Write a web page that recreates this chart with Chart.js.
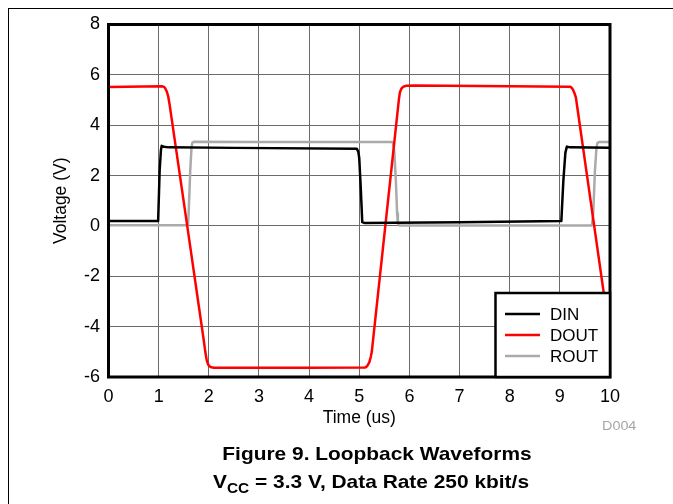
<!DOCTYPE html>
<html>
<head>
<meta charset="utf-8">
<script src="https://cdn.jsdelivr.net/npm/chart.js@4.4.0/dist/chart.umd.min.js"></script>
<style>
html,body{margin:0;padding:0;background:#fff;overflow:hidden;}
#wrap{position:relative;width:673px;height:504px;overflow:hidden;font-family:'Liberation Sans',Arial,sans-serif;}
#frame{position:absolute;left:7.5px;top:7.5px;width:700px;height:600px;border-top:1px solid #000;border-left:1px solid #000;}
#c{position:absolute;left:0;top:0;}
.cap{position:absolute;width:500px;text-align:center;font-weight:bold;font-size:19px;line-height:19px;color:#000;white-space:nowrap;transform:scaleX(1.1);transform-origin:center;}
.cap sub{font-size:14px;line-height:0;vertical-align:-5px;}
#d004{position:absolute;left:602px;top:420px;font-size:12.5px;line-height:12.5px;color:#a6a6a6;transform:scaleX(1.15);transform-origin:left;}
</style>
</head>
<body>
<div id="wrap">
<div id="frame"></div>
<canvas id="c" width="673" height="504"></canvas>
<div id="d004">D004</div>
<div class="cap" style="left:127px;top:444px;">Figure 9. Loopback Waveforms</div>
<div class="cap" style="left:121px;top:472px;">V<sub>CC</sub> = 3.3 V, Data Rate 250 kbit/s</div>
</div>
<script>
// Time axis (us) and voltages (V)
const xTicks = [0,1,2,3,4,5,6,7,8,9,10];
const yTicks = [-6,-4,-2,0,2,4,6,8];

const dinT = [0, 0.99, 1.02, 1.045, 1.06, 1.1, 1.2, 2.5, 4.95, 4.98, 5.0, 5.03, 5.06, 5.1, 7.0, 9.03, 9.07, 9.11, 9.14, 9.2, 10];
const dinV = [0.2, 0.2, 2.2, 3.0, 3.18, 3.14, 3.12, 3.1, 3.07, 2.95, 2.7, 1.5, 0.15, 0.12, 0.15, 0.2, 1.8, 2.9, 3.15, 3.12, 3.1];

const doutT = [0, 1.06, 1.1, 1.13, 1.16, 1.19, 1.22, 1.57, 1.9, 1.93, 1.96, 1.99, 2.03, 2.1, 4.0, 5.12, 5.16, 5.2, 5.23, 5.25, 5.52, 5.789, 5.81, 5.84, 5.88, 5.94, 6.1, 8.0, 9.2, 9.23, 9.26, 9.29, 9.32, 9.685, 10];
const doutV = [5.52, 5.55, 5.53, 5.47, 5.35, 5.15, 4.8, 0.0, -4.55, -5.0, -5.35, -5.52, -5.6, -5.63, -5.63, -5.62, -5.56, -5.42, -5.2, -5.0, 0.0, 5.0, 5.3, 5.45, 5.53, 5.57, 5.58, 5.55, 5.53, 5.5, 5.42, 5.28, 5.1, 0.0, -4.41];

const routT = [0, 1.585, 1.6, 1.63, 1.655, 1.67, 1.7, 3.0, 5.66, 5.68, 5.7, 5.73, 5.755, 5.77, 5.8, 9.64, 9.665, 9.7, 9.73, 9.75, 9.78, 10];
const routV = [0.03, 0.03, 0.6, 2.2, 3.1, 3.3, 3.34, 3.33, 3.33, 3.25, 2.9, 1.8, 0.5, 0.1, 0.02, 0.02, 0.5, 2.2, 3.1, 3.3, 3.33, 3.33];

const seriesNames = ['DIN', 'DOUT', 'ROUT'];
const seriesColors = ['#000000', '#ff0000', '#aaaaaa'];

function pts(t, v){ return t.map((x,i)=>({x:x, y:v[i]})); }

const FONT = "'Liberation Sans', Arial, sans-serif";

const framePlugin = {
  id: 'frameLegend',
  afterDraw(chart){
    const ctx = chart.ctx, a = chart.chartArea;
    ctx.save();
    ctx.strokeStyle = '#000';
    ctx.lineWidth = 3;
    ctx.strokeRect(a.left, a.top, a.right - a.left, a.bottom - a.top);
    const bw = 114.5, bh = 84;
    const bx = a.right - bw, by = a.bottom - bh;
    ctx.fillStyle = '#fff';
    ctx.fillRect(bx, by, bw, bh);
    ctx.lineWidth = 2.5;
    ctx.strokeRect(bx, by, bw, bh);
    ctx.font = '17px ' + FONT;
    ctx.textBaseline = 'middle';
    ctx.textAlign = 'left';
    chart.data.datasets.forEach((ds, i) => {
      const y = by + 21 + i * 21;
      ctx.strokeStyle = ds.borderColor;
      ctx.lineWidth = 2.5;
      ctx.beginPath();
      ctx.moveTo(bx + 9.5, y);
      ctx.lineTo(bx + 44.5, y);
      ctx.stroke();
      ctx.fillStyle = '#000';
      ctx.fillText(ds.label, bx + 54.5, y + 1);
    });
    ctx.restore();
  }
};

new Chart(document.getElementById('c'), {
  type: 'line',
  data: {
    datasets: [
      {label: seriesNames[0], data: pts(dinT, dinV), borderColor: seriesColors[0]},
      {label: seriesNames[1], data: pts(doutT, doutV), borderColor: seriesColors[1]},
      {label: seriesNames[2], data: pts(routT, routV), borderColor: seriesColors[2]}
    ].map(d => Object.assign(d, {borderWidth: 2.5, pointRadius: 0, fill: false, tension: 0, borderJoinStyle: 'round', borderCapStyle: 'round'}))
  },
  options: {
    responsive: false,
    animation: false,
    devicePixelRatio: 1,
    layout: {padding: {left: 0, top: 24.5, right: 63, bottom: 75}},
    plugins: {legend: {display: false}, tooltip: {enabled: false}},
    scales: {
      x: {
        type: 'linear', min: 0, max: 10,
        afterBuildTicks: s => { s.ticks = xTicks.map(v => ({value: v})); },
        afterFit: s => { s.height = 52; },
        grid: {color: '#6b6b6b', lineWidth: 1, drawTicks: false},
        border: {display: false},
        ticks: {color: '#000', font: {family: FONT, size: 18}, padding: 9.5, maxRotation: 0, autoSkip: false},
        title: {display: true, text: 'Time (us)', color: '#000', font: {family: FONT, size: 17.5}, padding: {top: 0, bottom: 0.5}}
      },
      y: {
        min: -6, max: 8,
        afterBuildTicks: s => { s.ticks = yTicks.map(v => ({value: v})); },
        afterFit: s => { s.width = 108.5; },
        grid: {color: '#6b6b6b', lineWidth: 1, drawTicks: false},
        border: {display: false},
        ticks: {color: '#000', font: {family: FONT, size: 18}, padding: 8.5, autoSkip: false},
        title: {display: true, text: 'Voltage (V)', color: '#000', font: {family: FONT, size: 17.5}, padding: {top: 50.5, bottom: 0}}
      }
    }
  },
  plugins: [framePlugin]
});
</script>
</body>
</html>
